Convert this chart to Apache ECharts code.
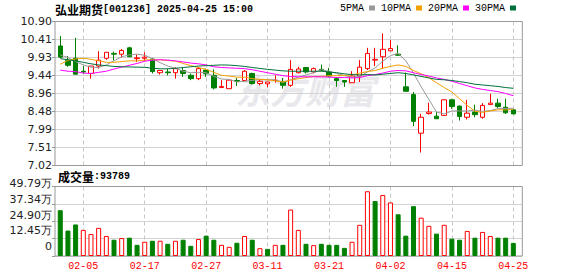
<!DOCTYPE html>
<html><head><meta charset="utf-8">
<script src="https://cdn.jsdelivr.net/npm/echarts@6/dist/echarts.min.js"></script>
<style>html,body{margin:0;padding:0;background:#fff}#c{width:578px;height:276px}</style>
</head><body><div id="c"></div>
<script>
// ---------- data ----------
const dates = ['01-23','01-24','01-27','02-05','02-06','02-07','02-10','02-11','02-12','02-13','02-14','02-17','02-18','02-19','02-20','02-21','02-24','02-25','02-26','02-27','02-28','03-03','03-04','03-05','03-06','03-07','03-10','03-11','03-12','03-13','03-14','03-17','03-18','03-19','03-20','03-21','03-24','03-25','03-26','03-27','03-28','03-31','04-01','04-02','04-03','04-07','04-08','04-09','04-10','04-11','04-14','04-15','04-16','04-17','04-18','04-21','04-22','04-23','04-24','04-25'];
// [open, close, low, high]
const candles = [
[10.24,9.94,9.92,10.51],[9.85,9.72,9.68,9.97],[9.91,9.48,9.47,10.46],[9.56,9.54,9.49,9.70],[9.50,9.70,9.36,9.70],
[9.70,9.86,9.63,10.10],[9.91,10.07,9.87,10.07],[10.04,10.02,9.85,10.09],[10.02,10.12,9.93,10.16],[10.19,9.95,9.94,10.22],
[9.90,9.92,9.81,10.01],[9.91,9.94,9.83,10.07],[9.89,9.55,9.50,9.92],[9.52,9.58,9.47,9.59],[9.54,9.52,9.45,9.63],
[9.52,9.63,9.36,9.67],[9.58,9.50,9.41,9.65],[9.45,9.36,9.32,9.50],[9.36,9.63,9.32,9.67],[9.59,9.49,9.41,9.63],
[9.45,9.11,9.07,9.61],[9.12,9.15,9.11,9.32],[9.09,9.32,9.09,9.33],[9.31,9.29,9.16,9.38],[9.31,9.56,9.29,9.59],
[9.50,9.23,9.20,9.52],[9.23,9.29,9.18,9.32],[9.22,9.27,9.13,9.27],[9.31,9.32,9.25,9.45],[9.27,9.18,9.09,9.38],
[9.18,9.61,9.14,9.86],[9.52,9.62,9.50,9.68],[9.66,9.54,9.50,9.66],[9.54,9.63,9.50,9.66],[9.61,9.58,9.56,9.74],
[9.54,9.43,9.40,9.65],[9.36,9.31,9.14,9.40],[9.31,9.27,9.14,9.32],[9.25,9.43,9.25,9.56],[9.43,9.67,9.27,9.86],
[9.63,10.04,9.59,10.19],[9.86,9.88,9.70,10.19],[9.95,10.15,9.63,10.58],[10.11,10.17,10.11,10.40],[10.02,9.99,9.97,10.26],
[9.14,9.02,9.02,9.52],[8.93,8.21,8.08,9.00],[7.89,8.32,7.37,8.41],[8.42,8.46,8.39,8.71],[8.35,8.28,8.28,8.46],
[8.37,8.79,8.37,8.80],[8.79,8.61,8.55,8.82],[8.62,8.34,8.23,8.64],[8.32,8.43,8.26,8.79],[8.46,8.39,8.32,8.66],
[8.32,8.64,8.28,8.70],[8.66,8.70,8.66,8.95],[8.70,8.61,8.57,8.82],[8.59,8.44,8.41,8.82],[8.52,8.41,8.41,8.53]
];
const ma5 = [10.00,9.93,9.82,9.73,9.67,9.66,9.73,9.84,9.95,10.00,10.02,9.99,9.90,9.79,9.70,9.64,9.56,9.52,9.53,9.52,
9.42,9.35,9.34,9.27,9.29,9.31,9.34,9.33,9.33,9.26,9.33,9.40,9.46,9.52,9.60,9.56,9.50,9.44,9.40,9.42,
9.54,9.65,9.83,9.98,10.04,9.84,9.51,9.14,8.80,8.46,8.41,8.49,8.49,8.49,8.51,8.48,8.50,8.55,8.56,8.56];
const ma10 = [9.75,9.85,9.89,9.91,9.88,9.84,9.80,9.80,9.82,9.84,9.84,9.86,9.87,9.87,9.85,9.83,9.77,9.71,9.66,9.61,
9.53,9.45,9.43,9.40,9.40,9.36,9.34,9.33,9.30,9.27,9.32,9.36,9.39,9.42,9.42,9.44,9.44,9.45,9.46,9.51,
9.55,9.58,9.64,9.69,9.73,9.69,9.58,9.49,9.39,9.25,9.12,9.00,8.82,8.64,8.48,8.45,8.49,8.52,8.52,8.53];
const ma20 = [9.59,9.56,9.55,9.51,9.50,9.53,9.56,9.62,9.67,9.72,9.77,9.83,9.86,9.87,9.86,9.84,9.81,9.78,9.76,9.73,
9.68,9.66,9.65,9.64,9.63,9.60,9.56,9.52,9.48,9.44,9.42,9.41,9.41,9.41,9.41,9.40,9.39,9.39,9.38,9.39,
9.44,9.47,9.51,9.56,9.58,9.57,9.52,9.47,9.43,9.38,9.34,9.29,9.23,9.17,9.11,9.07,9.04,9.01,8.96,8.90];
const ma30 = [9.90,9.87,9.84,9.80,9.76,9.73,9.71,9.69,9.68,9.675,9.67,9.665,9.64,9.625,9.625,9.64,9.66,9.68,9.70,9.71,
9.72,9.73,9.725,9.71,9.69,9.66,9.635,9.61,9.59,9.57,9.56,9.56,9.56,9.56,9.56,9.54,9.52,9.49,9.47,9.46,
9.47,9.46,9.48,9.50,9.52,9.50,9.46,9.42,9.38,9.34,9.33,9.31,9.28,9.25,9.21,9.19,9.17,9.15,9.12,9.10];
const volumes = [327900,182200,225900,187000,157900,201600,143300,116600,128700,131200,
80100,102000,109300,109300,87400,109300,116600,72900,121400,145700,
116600,80100,65600,94700,143300,116600,55900,51000,80100,80100,
332700,187000,87400,77700,87400,80100,80100,58300,102000,223400,
463900,393500,437200,383700,298700,145700,357000,274500,216200,160300,
223400,123900,116600,179700,131200,172400,143300,131200,131200,93789];
const priceTicks = ['7.02','7.51','7.99','8.48','8.96','9.44','9.93','10.41','10.90'];
const volumeTicks = ['0','12.45万','24.90万','37.34万','49.79万'];
const dateTicks = ['02-05','02-17','02-27','03-11','03-21','04-02','04-15','04-25'];
const priceMin = 7.02, priceMax = 10.90, volumeMax = 497900;
const maNames = ['5PMA','10PMA','20PMA','30PMA'];

// ---------- style ----------
const UP = '#ff0000', DOWN = '#008000';
const MONO = '"Liberation Mono", monospace';
const CJK = '"Noto Sans CJK SC", sans-serif';
const AXF = '"DejaVu Sans", sans-serif';
const maColors = ['#999999', '#f4a000', '#ff00ff', '#00703c'];
const FL = 55, FW = 467.3;          // frame
const DL = 56.42, DW = 460.74;      // data band area
const MT = 21.5, MH = 144;          // main panel
const VT = 186.5, VH = 69.5;        // volume panel
const GRID = '#d3d3d3', FRAME = '#999999';

const volData = volumes.map((v, i) => {
  const up = i === 0 ? candles[i][1] >= candles[i][0] : candles[i][1] >= candles[i - 1][1];
  return { value: v, itemStyle: up ? { color: '#fff', borderColor: UP, borderWidth: 1 } : { color: DOWN, borderColor: DOWN, borderWidth: 1 } };
});
const dashedSplit = { show: true, alignWithLabel: true, interval: (i, v) => dateTicks.includes(v),
  lineStyle: { color: '#c8c8c8', type: [4, 3], width: 1 } };

const chart = echarts.init(document.getElementById('c'), null, { renderer: 'svg' });
chart.setOption({
  animation: false,
  title: [
    { text: '{a|弘业期货}{b|[001236] 2025-04-25 15:00}', left: 55, top: 3, padding: 0,
      textStyle: { rich: { a: { fontFamily: CJK, fontSize: 12, color: '#000' }, b: { fontFamily: MONO, fontSize: 10, color: '#000' } } } },
    { text: '{a|成交量}{b|:' + volumes[volumes.length - 1] + '}', left: 58, top: 170.5, padding: 0,
      textStyle: { rich: { a: { fontFamily: CJK, fontSize: 12, color: '#000' }, b: { fontFamily: MONO, fontSize: 10, color: '#000' } } } }
  ],
  legend: {
    data: maNames, left: 340, top: 3, padding: 0, align: 'right', icon: 'rect',
    itemWidth: 6, itemHeight: 5, itemGap: 6, selectedMode: false,
    textStyle: { fontFamily: MONO, fontSize: 10, color: '#000' }
  },
  graphic: [
    { type: 'text', left: 235, top: 71, silent: true,
      style: { text: '东方财富', fontSize: 35, fontWeight: 'bold', fontStyle: 'italic', fontFamily: CJK, fill: '#e8e8ec' } },
    { type: 'rect', silent: true, z: 1, shape: { x: FL, y: MT, width: FW, height: MH },
      style: { fill: 'none', stroke: FRAME, lineWidth: 1 } },
    { type: 'rect', silent: true, z: 1, shape: { x: FL, y: VT, width: FW, height: VH },
      style: { fill: 'none', stroke: FRAME, lineWidth: 1 } }
  ],
  grid: [
    { left: FL, top: MT, width: FW, height: MH },
    { left: DL, top: MT, width: DW, height: MH },
    { left: FL, top: VT, width: FW, height: VH },
    { left: DL, top: VT, width: DW, height: VH },
    { left: FL, top: 183.7, width: FW, height: 63 }
  ],
  xAxis: [
    { gridIndex: 0, type: 'value', min: 0, max: 1, show: false },
    { gridIndex: 1, type: 'category', data: dates,
      axisLine: { show: false }, axisTick: { show: false }, axisLabel: { show: false }, splitLine: dashedSplit },
    { gridIndex: 2, type: 'value', min: 0, max: 1, show: false },
    { gridIndex: 3, type: 'category', data: dates,
      axisLine: { show: false }, axisTick: { show: false }, splitLine: dashedSplit,
      axisLabel: { interval: (i, v) => dateTicks.includes(v),
        color: UP, fontFamily: MONO, fontSize: 10, margin: 5 } },
    { gridIndex: 4, type: 'value', min: 0, max: 1, show: false }
  ],
  yAxis: [
    { gridIndex: 0, type: 'value', min: 0, max: 8, interval: 1,
      axisLine: { show: false }, axisTick: { show: true, length: 3, lineStyle: { color: FRAME } },
      axisLabel: { formatter: v => priceTicks[v], fontFamily: AXF, fontSize: 11, color: '#222', margin: 3 },
      splitLine: { show: true, lineStyle: { color: GRID, width: 1 } } },
    { gridIndex: 1, type: 'value', min: priceMin, max: priceMax, show: false, splitLine: { show: false } },
    { gridIndex: 2, type: 'value', min: 0, max: 4, interval: 1,
      axisLine: { show: false }, axisTick: { show: true, length: 3, lineStyle: { color: FRAME } },
      axisLabel: { show: false },
      splitLine: { show: true, lineStyle: { color: GRID, width: 1 } } },
    { gridIndex: 3, type: 'value', min: 0, max: volumeMax, show: false, splitLine: { show: false } },
    { gridIndex: 4, type: 'value', min: 0, max: 4, interval: 1,
      axisLine: { show: false }, axisTick: { show: false }, splitLine: { show: false },
      axisLabel: { formatter: v => volumeTicks[v], fontFamily: AXF, fontSize: 11, color: '#222', margin: 3 } }
  ],
  series: [
    { type: 'candlestick', xAxisIndex: 1, yAxisIndex: 1, data: candles, barWidth: 5, z: 2, silent: true,
      itemStyle: { color: '#fff', color0: DOWN, borderColor: UP, borderColor0: DOWN, borderWidth: 1 } },
    ...[ma5, ma10, ma20, ma30].map((d, k) => ({
      type: 'line', name: maNames[k], xAxisIndex: 1, yAxisIndex: 1, data: d, symbol: 'none', silent: true, z: 3,
      lineStyle: { width: 1, color: maColors[k] }, itemStyle: { color: maColors[k] }
    })),
    { type: 'bar', xAxisIndex: 3, yAxisIndex: 3, data: volData, barWidth: 5, z: 2, silent: true }
  ]
});
</script>
</body></html>
